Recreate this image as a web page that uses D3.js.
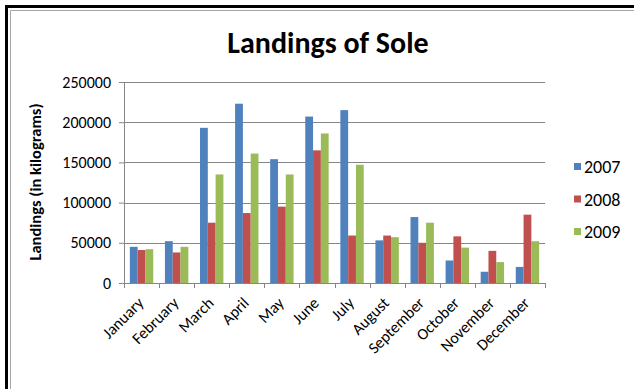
<!DOCTYPE html>
<html>
<head>
<meta charset="utf-8">
<script src="https://cdn.jsdelivr.net/npm/d3@7"></script>
<style>
  body { margin: 0; background: #fff; }
  text { font-family: Calibri, Carlito, "Open Sans", sans-serif; }
</style>
</head>
<body>
<div id="container"></div>
<script>
var months = ['January', 'February', 'March', 'April', 'May', 'June', 'July',
              'August', 'September', 'October', 'November', 'December'];
var years = ['2007', '2008', '2009'];
var landings2007 = [45000, 52000, 193000, 223000, 154000, 207000, 215000, 53000, 82000, 28000, 14000, 20000];
var landings2008 = [41000, 38000, 75000, 87000, 95000, 165000, 59000, 59000, 50000, 58000, 40000, 85000];
var landings2009 = [42000, 45000, 135000, 161000, 135000, 186000, 147000, 57000, 75000, 44000, 26000, 52000];
var yTicks = [0, 50000, 100000, 150000, 200000, 250000];
var colors = ['#4F81BD', '#C0504D', '#9BBB59'];

var series = [landings2007, landings2008, landings2009];

var svgWidth = 634,
    svgHeight = 389,
    svg = d3.select('#container').append('svg').attr('width', svgWidth).attr('height', svgHeight).style('background-color', 'white'),
    margin = { top: 82, left: 124 },
    width = 421,
    height = 201;

// frame: thick black on top/left, thin grey inside
svg.append('path').attr('d', 'M6.5,389V6.5H634').attr('fill', 'none').attr('stroke', '#000').attr('stroke-width', 3);
svg.append('path').attr('d', 'M10.5,389V10.5H634').attr('fill', 'none').attr('stroke', '#a6a6a6').attr('stroke-width', 1);

var g = svg.append('g').attr('transform', 'translate(' + margin.left + ',' + margin.top + ')');

var x = d3.scaleBand().domain(months).range([0, width]).paddingInner(1 / 3).paddingOuter(1 / 6);
var xs = d3.scaleBand().domain(years).range([0, x.bandwidth()]);
var y = d3.scaleLinear().domain([0, 250000]).range([height, 0]);

// gridlines
g.append('g').selectAll('line')
  .data(yTicks.slice(1))
  .enter().append('line')
    .attr('x1', 0).attr('x2', width)
    .attr('y1', function(d) { return Math.round(y(d)) + 0.5; })
    .attr('y2', function(d) { return Math.round(y(d)) + 0.5; })
    .attr('stroke', '#868686');

// bars
var groups = g.append('g').selectAll('g')
  .data(months)
  .enter().append('g')
    .attr('transform', function(d) { return 'translate(' + x(d) + ',0)'; });

groups.selectAll('rect')
  .data(function(d, i) { return series.map(function(s, j) { return { year: years[j], value: s[i], c: colors[j] }; }); })
  .enter().append('rect')
    .attr('x', function(d) { return xs(d.year); })
    .attr('width', xs.bandwidth())
    .attr('y', function(d) { return y(d.value); })
    .attr('height', function(d) { return height - y(d.value); })
    .attr('fill', function(d) { return d.c; });

// y axis
var yAxis = g.append('g').attr('class', 'axis axis-y')
    .call(d3.axisLeft(y).tickValues(yTicks).tickSize(5).tickPadding(8).tickFormat(d3.format('d')));
yAxis.select('.domain').attr('stroke', '#868686');
yAxis.selectAll('.tick line').attr('stroke', '#868686');
yAxis.selectAll('.tick text').attr('fill', '#000').style('font-size', '16px');

// x axis with ticks between categories
var xAxis = g.append('g').attr('class', 'axis axis-x')
    .attr('transform', 'translate(0,' + height + ')');
xAxis.append('line').attr('x1', 0).attr('x2', width).attr('y1', 0.5).attr('y2', 0.5).attr('stroke', '#868686');
xAxis.selectAll('.sep')
  .data(d3.range(months.length + 1))
  .enter().append('line')
    .attr('class', 'sep')
    .attr('x1', function(i) { return Math.round(i * x.step()) + 0.5; })
    .attr('x2', function(i) { return Math.round(i * x.step()) + 0.5; })
    .attr('y1', 0).attr('y2', 5)
    .attr('stroke', '#868686');
xAxis.selectAll('.lbl')
  .data(months)
  .enter().append('text')
    .attr('class', 'lbl')
    .attr('transform', function(d) { return 'translate(' + (x(d) + x.bandwidth() / 2 + 3) + ',21) rotate(-45)'; })
    .style('text-anchor', 'end')
    .style('font-size', '16px')
    .text(function(d) { return d; });

// title
svg.append('text')
    .attr('x', 328).attr('y', 53)
    .style('text-anchor', 'middle')
    .style('font-size', '30px')
    .style('font-weight', 'bold')
    .text('Landings of Sole');

svg.append('text')
    .attr('transform', 'translate(41,' + (margin.top + 100) + ') rotate(-90)')
    .style('text-anchor', 'middle')
    .style('font-size', '16.5px')
    .style('font-weight', 'bold')
    .text('Landings (in kilograms)');

// legend
var legend = svg.append('g').selectAll('g')
  .data(years)
  .enter().append('g')
    .attr('transform', function(d, i) { return 'translate(574,' + (167 + i * 32.5) + ')'; });
legend.append('rect').attr('x', 0).attr('y', -4).attr('width', 7).attr('height', 7)
    .attr('fill', function(d, i) { return colors[i]; });
legend.append('text').attr('x', 10).attr('y', 0).attr('dy', '0.35em')
    .style('font-size', '18px')
    .text(function(d) { return d; });
</script>
</body>
</html>
